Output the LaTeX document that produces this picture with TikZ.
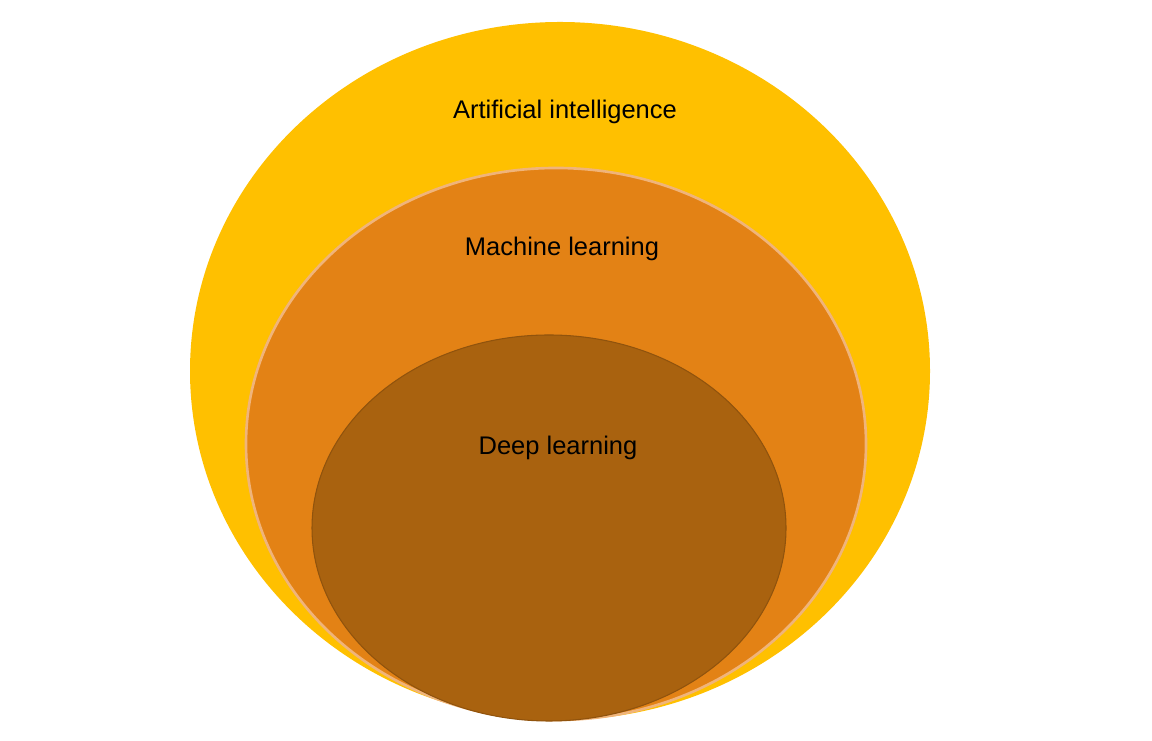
\documentclass[tikz,border=0pt]{standalone}
\usepackage{fontspec}
\setmainfont{Liberation Sans}
\usetikzlibrary{shapes.geometric}
\definecolor{aiyellow}{HTML}{FFC000}
\definecolor{mlorange}{HTML}{E38215}
\definecolor{mlrim}{HTML}{F0B47A}
\definecolor{dlbrown}{HTML}{A9620F}
\tikzset{
	field/.style={shape=ellipse,inner sep=0pt},
	caption/.style={font=\fontsize{14.5}{17}\selectfont,text=black}
}
\begin{document}
\begin{tikzpicture}
	\useasboundingbox (0,0) rectangle (23.04,14.82);

	\node[field,fill=aiyellow,minimum width=14.8cm,minimum height=13.96cm] (ai) at (11.2, 7.40) {};
	\node[field,fill=mlorange,draw=mlrim,line width=1.5pt,minimum width=12.4cm,minimum height=11.04cm] (ml) at (11.12, 5.94) {};
	\node[field,fill=dlbrown,draw=dlbrown!85!black,line width=0.6pt,minimum width=9.48cm,minimum height=7.72cm] (dl) at (10.98, 4.26) {};

	\node[caption] (ailabel) at (11.3, 12.58) {Artificial intelligence};
	\node[caption] (mllabel) at (11.24, 9.84) {Machine learning};
	\node[caption] (dllabel) at (11.16, 5.86) {Deep learning};
\end{tikzpicture}
\end{document}
